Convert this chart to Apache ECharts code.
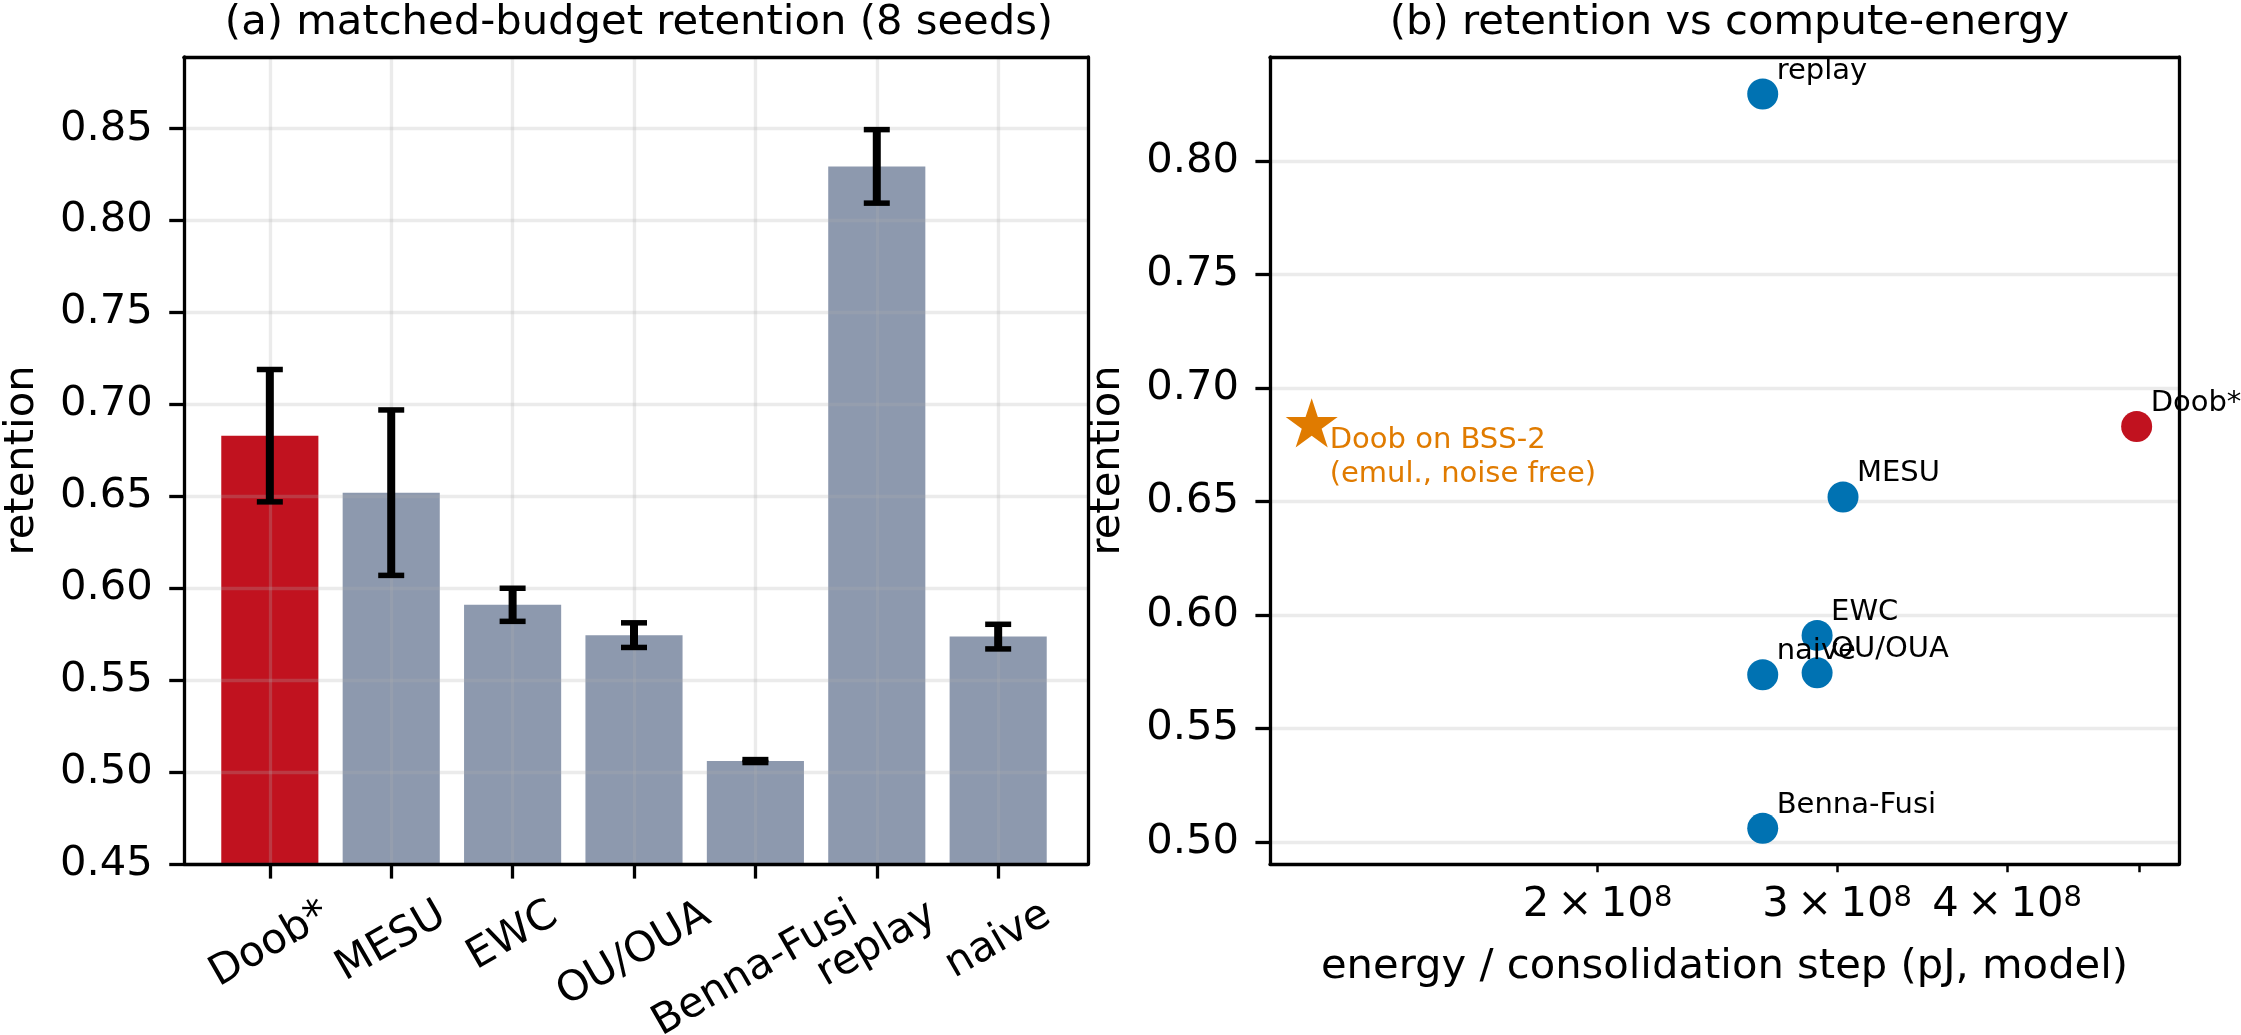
<!DOCTYPE html>
<html>
<head>
<meta charset="utf-8">
<script src="https://cdn.jsdelivr.net/npm/echarts@6/dist/echarts.min.js"></script>
<style>
html, body { margin: 0; padding: 0; background: #ffffff; }
#chart { width: 2241px; height: 1035px; }
</style>
</head>
<body>
<div id="chart"></div>
<script>
// data
var methods = ['Doob*', 'MESU', 'EWC', 'OU/OUA', 'Benna-Fusi', 'replay', 'naive'];
var retention = [0.683, 0.652, 0.591, 0.5745, 0.506, 0.8295, 0.5737];
var retention_err = [0.036, 0.045, 0.009, 0.0067, 0.0008, 0.020, 0.0067];
var energy = [4.98e8, 3.03e8, 2.90e8, 2.90e8, 2.645e8, 2.645e8, 2.645e8];
var bss2_name = 'Doob on BSS-2\n(emul., noise free)';
var bss2_energy = 1.233e8;
var bss2_retention = 0.6835;
var ticks_a_y = [0.45, 0.50, 0.55, 0.60, 0.65, 0.70, 0.75, 0.80, 0.85];
var ticks_b_y = [0.50, 0.55, 0.60, 0.65, 0.70, 0.75, 0.80];
var ticks_b_x = [2e8, 3e8, 4e8, 5e8];
var labels_b_x = [2e8, 3e8, 4e8];

var font_family = 'DejaVu Sans';
var fs = 41.7;
var fs_small = 29;
var red = '#c1121f';
var slate = '#8d99ae';
var blue = '#0072b2';
var orange = '#e07b00';
var grid_color = 'rgba(176,176,176,0.25)';
var spine = 3.3;

// panel geometry
var top_px = 57, height_px = 807;
var a_left = 180, a_width = 908;
var a_xmin = -0.74, a_xmax = 6.74;
var unit = a_width / (a_xmax - a_xmin);
var b_left = 1270, b_width = 909;

var measure_ctx = document.createElement('canvas').getContext('2d');
measure_ctx.font = fs + 'px "' + font_family + '"';

function spineAxis(gridIndex, position) {
	return {
		gridIndex: gridIndex, type: 'value', position: position, min: 0, max: 1, z: 6,
		axisLine: { show: true, onZero: false, lineStyle: { color: '#000', width: spine } },
		axisTick: { show: false }, axisLabel: { show: false }, splitLine: { show: false }
	};
}

var errData = methods.map(function (m, i) {
	return [i, retention[i] - retention_err[i], retention[i] + retention_err[i]];
});

function renderErr(params, api) {
	var lo = api.coord([api.value(0), api.value(1)]);
	var hi = api.coord([api.value(0), api.value(2)]);
	var cap = 13;
	var st = { stroke: '#000', lineWidth: 8 };
	var cs = { stroke: '#000', lineWidth: 5.5 };
	return {
		type: 'group',
		children: [
			{ type: 'line', shape: { x1: lo[0], y1: lo[1], x2: hi[0], y2: hi[1] }, style: st },
			{ type: 'line', shape: { x1: lo[0] - cap, y1: lo[1], x2: lo[0] + cap, y2: lo[1] }, style: cs },
			{ type: 'line', shape: { x1: hi[0] - cap, y1: hi[1], x2: hi[0] + cap, y2: hi[1] }, style: cs }
		]
	};
}

// rotated category labels, centred under the tick like matplotlib
function renderCatLabel(params, api) {
	var i = api.value(0);
	var p = api.coord([i, api.value(1)]);
	var name = methods[i];
	var w = measure_ctx.measureText(name).width;
	var bh = w * 0.5 + 44 * Math.cos(Math.PI / 6);
	return {
		type: 'text',
		x: p[0],
		y: p[1] + 29 + bh / 2,
		rotation: Math.PI / 6,
		style: {
			text: name, fill: '#000', fontSize: fs, fontFamily: font_family,
			align: 'center', verticalAlign: 'middle'
		}
	};
}

var chart = echarts.init(document.getElementById('chart'));
var option = {
	animation: false,
	backgroundColor: '#ffffff',
	textStyle: { fontFamily: font_family, color: '#000' },
	title: [
		{
			text: '(a) matched-budget retention (8 seeds)', left: a_left + a_width / 2, top: -3, textAlign: 'center',
			textStyle: { fontSize: fs, fontWeight: 'normal', fontFamily: font_family, color: '#000', lineHeight: fs }
		},
		{
			text: '(b) retention vs compute-energy', left: b_left + b_width / 2, top: -3, textAlign: 'center',
			textStyle: { fontSize: fs, fontWeight: 'normal', fontFamily: font_family, color: '#000', lineHeight: fs }
		}
	],
	grid: [
		{ left: a_left, top: top_px, width: a_width, height: height_px },
		{ left: a_left + (0 - a_xmin - 0.5) * unit, top: top_px, width: methods.length * unit, height: height_px },
		{ left: b_left, top: top_px, width: b_width, height: height_px }
	],
	xAxis: [
		spineAxis(0, 'bottom'),
		spineAxis(0, 'top'),
		{
			gridIndex: 1, type: 'category', data: methods, position: 'bottom', z: 5,
			axisLine: { show: false },
			axisTick: { show: true, interval: 0, alignWithLabel: true, length: 14.6, lineStyle: { color: '#000', width: spine } },
			axisLabel: { show: false, interval: 0 },
			splitLine: { show: true, interval: 0, alignWithLabel: true, lineStyle: { color: grid_color, width: spine } }
		},
		{
			gridIndex: 2, type: 'log', logBase: 10, min: 1.149e8, max: 5.35e8, position: 'bottom',
			axisLine: { show: true, onZero: false, lineStyle: { color: '#000', width: spine } },
			axisTick: { show: true, customValues: ticks_b_x, length: 8.3, lineStyle: { color: '#000', width: 2.5 } },
			axisLabel: {
				show: true, customValues: labels_b_x, margin: 20,
				formatter: function (v) {
					var e = Math.floor(Math.log10(v) + 1e-9);
					var m = Math.round(v / Math.pow(10, e));
					return '{b|' + m + '\u2009\u00d7\u200910}{s|' + e + '}';
				},
				rich: {
					b: { fontSize: fs, fontFamily: font_family, color: '#000', lineHeight: fs },
					s: { fontSize: fs_small, fontFamily: font_family, color: '#000', lineHeight: 14, verticalAlign: 'top' }
				}
			},
			splitLine: { show: false }, minorTick: { show: false },
			name: 'energy / consolidation step (pJ, model)', nameLocation: 'middle', nameGap: 82,
			nameTextStyle: { fontSize: fs, fontFamily: font_family, color: '#000', lineHeight: fs }
		},
		spineAxis(2, 'top')
	],
	yAxis: [
		{
			gridIndex: 0, type: 'value', position: 'left', min: 0.45, max: 0.889, interval: 0.05, z: 5,
			axisLine: { show: true, onZero: false, lineStyle: { color: '#000', width: spine } },
			axisTick: { show: true, customValues: ticks_a_y, length: 14.6, lineStyle: { color: '#000', width: spine } },
			axisLabel: {
				show: true, customValues: ticks_a_y, margin: 31, fontSize: fs, fontFamily: font_family, color: '#000',
				formatter: function (v) { return v.toFixed(2); }
			},
			splitLine: { show: true, lineStyle: { color: grid_color, width: spine } },
			name: 'retention', nameLocation: 'middle', nameGap: 141,
			nameTextStyle: { fontSize: fs, fontFamily: font_family, color: '#000', lineHeight: fs }
		},
		spineAxis(0, 'right'),
		{ gridIndex: 1, type: 'value', min: 0.45, max: 0.889, show: false },
		{
			gridIndex: 2, type: 'value', position: 'left', min: 0.4903, max: 0.8458, splitNumber: 7,
			axisLine: { show: true, onZero: false, lineStyle: { color: '#000', width: spine } },
			axisTick: { show: true, customValues: ticks_b_y, length: 14.6, lineStyle: { color: '#000', width: spine } },
			axisLabel: {
				show: true, customValues: ticks_b_y, margin: 31, fontSize: fs, fontFamily: font_family, color: '#000',
				formatter: function (v) { return v.toFixed(2); }
			},
			splitLine: { show: true, lineStyle: { color: grid_color, width: spine } },
			name: 'retention', nameLocation: 'middle', nameGap: 141,
			nameTextStyle: { fontSize: fs, fontFamily: font_family, color: '#000', lineHeight: fs }
		},
		spineAxis(2, 'right')
	],
	series: [
		{
			type: 'bar', xAxisIndex: 2, yAxisIndex: 2, barWidth: 0.8 * unit, z: 2,
			data: methods.map(function (m, i) {
				return { value: retention[i], itemStyle: { color: i === 0 ? red : slate } };
			})
		},
		{
			type: 'custom', xAxisIndex: 2, yAxisIndex: 2, z: 7, silent: true,
			data: errData, renderItem: renderErr
		},
		{
			type: 'custom', xAxisIndex: 2, yAxisIndex: 2, z: 7, silent: true, clip: false,
			data: methods.map(function (m, i) { return [i, 0.45]; }), renderItem: renderCatLabel
		},
		{
			type: 'scatter', xAxisIndex: 3, yAxisIndex: 3, symbolSize: 31, z: 4,
			itemStyle: { opacity: 1 },
			data: methods.map(function (m, i) {
				return { name: m, value: [energy[i], retention[i]], itemStyle: { color: i === 0 ? red : blue, opacity: 1 } };
			}),
			label: {
				show: true, formatter: '{b}', position: [29.5, -7.5], align: 'left', verticalAlign: 'middle',
				fontSize: fs_small, lineHeight: fs_small, fontFamily: font_family, color: '#000', opacity: 1
			}
		},
		{
			type: 'scatter', xAxisIndex: 3, yAxisIndex: 3, z: 4,
			symbol: 'path://M0,-100L22.45,-30.9L95.11,-30.9L36.33,11.8L58.78,80.9L0,38.2L-58.78,80.9L-36.33,11.8L-95.11,-30.9L-22.45,-30.9Z',
			symbolSize: [52, 49.4], symbolOffset: [0, -2.6],
			itemStyle: { color: orange, opacity: 1 },
			data: [{ name: bss2_name, value: [bss2_energy, bss2_retention] }],
			label: {
				show: true, formatter: '{b}', position: [44, 25], align: 'left', verticalAlign: 'top',
				fontSize: fs_small, lineHeight: 34, fontFamily: font_family, color: orange, opacity: 1
			}
		}
	]
};
chart.setOption(option);
</script>
</body>
</html>
